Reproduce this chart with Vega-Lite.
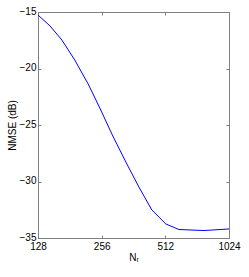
{
  "$schema": "https://vega.github.io/schema/vega-lite/v6.json",
  "autosize": "none",
  "width": 191,
  "height": 226,
  "padding": {"left": 38, "top": 12, "right": 20, "bottom": 39},
  "background": "white",
  "config": {
    "view": {"stroke": "#808080", "strokeWidth": 1},
    "font": "Liberation Sans",
    "axis": {
      "domainColor": "#808080",
      "tickColor": "#808080",
      "labelColor": "#000000",
      "titleColor": "#000000",
      "labelFont": "Liberation Sans",
      "titleFont": "Liberation Sans",
      "labelFontSize": 10,
      "titleFontSize": 10,
      "titleFontWeight": "normal",
      "grid": false,
      "tickSize": -3,
      "labelFlush": false,
      "labelOverlap": false
    }
  },
  "data": {
    "values": [
      {"N": 128, "nmse": -15.27},
      {"N": 146, "nmse": -16.24},
      {"N": 166, "nmse": -17.48},
      {"N": 191, "nmse": -19.25},
      {"N": 221, "nmse": -21.37},
      {"N": 251, "nmse": -23.5},
      {"N": 289, "nmse": -25.97},
      {"N": 333, "nmse": -28.27},
      {"N": 384, "nmse": -30.49},
      {"N": 442, "nmse": -32.52},
      {"N": 515, "nmse": -33.76},
      {"N": 594, "nmse": -34.25},
      {"N": 779, "nmse": -34.34},
      {"N": 1024, "nmse": -34.2}
    ]
  },
  "layer": [
    {
      "mark": {"type": "line", "color": "#0000ff", "strokeWidth": 1, "clip": true},
      "encoding": {
        "x": {
          "field": "N", "type": "quantitative",
          "scale": {"type": "log", "base": 2, "domain": [128, 1024], "nice": false},
          "axis": {"orient": "bottom", "values": [128, 256, 512, 1024], "format": "d", "title": "Nᵣ", "labelPadding": 6, "titlePadding": 1}
        },
        "y": {
          "field": "nmse", "type": "quantitative",
          "scale": {"domain": [-35, -15], "nice": false, "zero": false},
          "axis": {"orient": "left", "values": [-35, -30, -25, -20, -15], "title": "NMSE (dB)", "labelPadding": 5, "labelOffset": -1, "titlePadding": 2}
        }
      }
    },
    {
      "mark": {"type": "line", "opacity": 0},
      "encoding": {
        "x": {
          "field": "N", "type": "quantitative",
          "axis": {"orient": "top", "values": [128, 256, 512, 1024], "labels": false, "title": null}
        },
        "y": {
          "field": "nmse", "type": "quantitative",
          "axis": {"orient": "right", "values": [-35, -30, -25, -20, -15], "labels": false, "title": null}
        }
      }
    }
  ],
  "resolve": {"axis": {"x": "independent", "y": "independent"}}
}
